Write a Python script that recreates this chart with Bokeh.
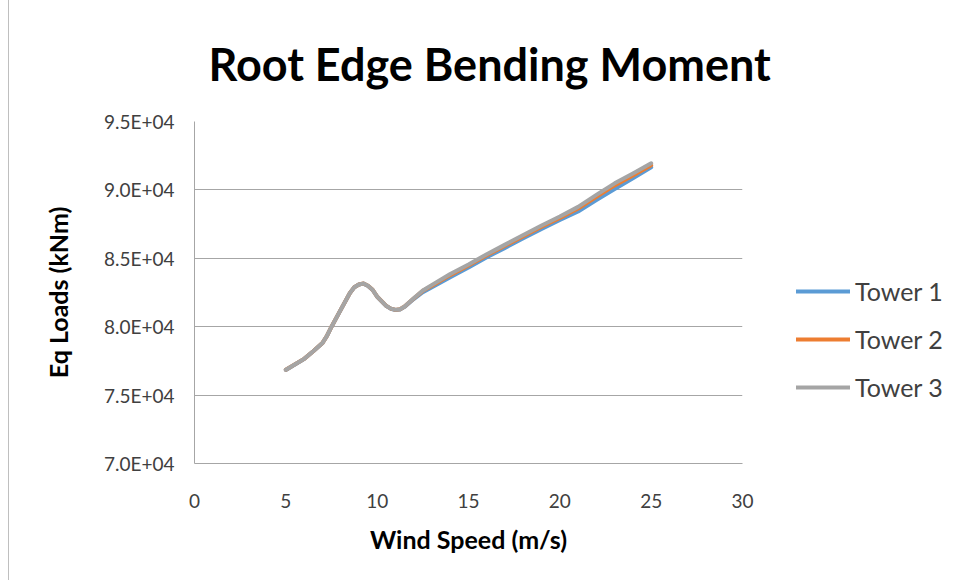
from bokeh.plotting import figure
from bokeh.models import Legend, LegendItem, FixedTicker
from bokeh.embed import file_html
from bokeh.resources import INLINE

# ---- data ----
wind_speed = [5, 6, 6.5, 7, 7.25, 7.5, 8, 8.5, 8.75, 9, 9.25, 9.5, 9.75, 10, 10.5, 10.75, 11,
              11.25, 11.5, 12, 12.5, 13, 14, 15, 16, 17, 18, 19, 20, 21, 22, 23, 24, 25]
tower3 = [76850, 77650, 78210, 78800, 79330, 80000, 81230, 82450, 82890, 83090, 83160, 82990,
          82700, 82200, 81520, 81320, 81230, 81270, 81470, 82080, 82650, 83060, 83850, 84550,
          85300, 86000, 86700, 87400, 88050, 88760, 89640, 90480, 91200, 91950]
tower2 = [76850, 77650, 78210, 78800, 79330, 80000, 81230, 82450, 82890, 83090, 83160, 82990,
          82700, 82200, 81520, 81320, 81230, 81270, 81470, 82060, 82620, 83000, 83770, 84470,
          85220, 85920, 86620, 87310, 87950, 88640, 89500, 90330, 91050, 91800]
tower1 = [76840, 77640, 78200, 78790, 79320, 79990, 81220, 82440, 82880, 83080, 83150, 82980,
          82690, 82190, 81510, 81310, 81220, 81250, 81450, 82020, 82520, 82880, 83620, 84320,
          85080, 85760, 86460, 87150, 87800, 88420, 89250, 90060, 90850, 91650]
series_names = ["Tower 1", "Tower 2", "Tower 3"]
series_colors = ["#5b9bd5", "#ed7d31", "#a5a5a5"]

x_ticks = [0, 5, 10, 15, 20, 25, 30]
y_ticks = [70000, 75000, 80000, 85000, 90000, 95000]
y_tick_labels = ["7.0E+04", "7.5E+04", "8.0E+04", "8.5E+04", "9.0E+04", "9.5E+04"]

title_text = "Root Edge Bending Moment"
x_title = "Wind Speed (m/s)"
y_title = "Eq Loads (kNm)"

FONT = "Lato"
GRID = "#a6a6a6"
TXT = "#404040"

p = figure(frame_width=548, frame_height=342, x_range=(0, 30), y_range=(70000, 95000),
           output_backend="svg", toolbar_location=None,
           min_border_left=185, min_border_right=215, min_border_top=121, min_border_bottom=117)
p.styles = {"margin-left": "8px", "border-left": "1px solid #bfbfbf"}
p.outline_line_color = None
p.background_fill_color = "white"
p.border_fill_color = "white"

p.title.text = title_text
p.title.text_font = FONT
p.title.text_font_style = "bold"
p.title.text_font_size = "45px"
p.title.text_color = "black"
p.title.align = "left"
p.title.offset = 14
p.title.standoff = 62

p.xgrid.grid_line_color = None
p.ygrid.grid_line_color = GRID
p.ygrid.grid_line_width = 1

p.xaxis.ticker = FixedTicker(ticks=x_ticks)
p.yaxis.ticker = FixedTicker(ticks=y_ticks)
p.yaxis.major_label_overrides = dict(zip(y_ticks, y_tick_labels))

for ax in (p.xaxis, p.yaxis):
    ax.axis_line_color = GRID
    ax.axis_line_width = 1
    ax.major_tick_line_color = None
    ax.minor_tick_line_color = None
    ax.major_label_text_font = FONT
    ax.major_label_text_font_size = "19px"
    ax.major_label_text_color = TXT
    ax.axis_label_text_font = FONT
    ax.axis_label_text_font_style = "bold"
    ax.axis_label_text_font_size = "25px"
    ax.axis_label_text_color = "black"
p.xaxis.major_label_standoff = 24
p.yaxis.major_label_standoff = 14
p.xaxis.axis_label = x_title
p.yaxis.axis_label = y_title
p.xaxis.axis_label_standoff = 13
p.yaxis.axis_label_standoff = 28

renderers = []
for ys, col in zip([tower1, tower2, tower3], series_colors):
    r = p.line(wind_speed, ys, line_color=col, line_width=4, line_join="round", line_cap="round")
    renderers.append(r)

legend = Legend(items=[LegendItem(label=n, renderers=[r]) for n, r in zip(series_names, renderers)],
                location=(54, 52))
legend.border_line_color = None
legend.background_fill_alpha = 0
legend.label_text_font = FONT
legend.label_text_font_size = "25px"
legend.label_text_color = TXT
legend.glyph_width = 54
legend.glyph_height = 48
legend.label_height = 48
legend.spacing = 0
legend.padding = 0
legend.margin = 0
legend.label_standoff = 5
p.add_layout(legend, "right")

open("out.html", "w").write(file_html(p, INLINE))
